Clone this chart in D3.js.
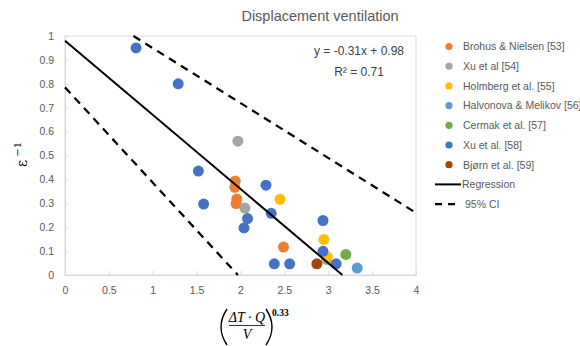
<!DOCTYPE html>
<html>
<head>
  <meta charset="utf-8">
  <title>Displacement ventilation</title>
  <style>
    body { margin: 0; background: #fff; }
    svg { display: block; font-family: "Liberation Sans", Arial, sans-serif; }
    .tick text { fill: #595959; font-size: 10.5px; }
    .tick line { stroke: #d9d9d9; }
    .domain { stroke: #d9d9d9; }
    .legend text { fill: #595959; font-size: 10.5px; }
  </style>
</head>
<body>
  <svg id="chart" width="580" height="346"></svg>

  <script src="https://cdn.jsdelivr.net/npm/d3@7"></script>
  <script>
    // measured points per study: [x, y]
    const brohus = [[1.94, 0.393], [1.935, 0.367], [1.958, 0.318], [1.95, 0.299], [2.49, 0.117]];
    const xu54 = [[1.97, 0.56], [2.05, 0.28], [2.98, 0.065]];
    const holmberg = [[2.45, 0.317], [2.95, 0.149], [2.99, 0.076]];
    const halvonova = [[3.33, 0.029]];
    const cermak = [[3.20, 0.086]];
    const xu58 = [
      [0.81, 0.95], [1.29, 0.80], [1.52, 0.435], [1.58, 0.297], [2.29, 0.376],
      [2.35, 0.258], [2.08, 0.236], [2.04, 0.197], [2.94, 0.228], [2.94, 0.099],
      [2.385, 0.047], [2.56, 0.047], [3.09, 0.047]
    ];
    const bjorn = [[2.87, 0.047]];

    const seriesNames = [
      "Brohus & Nielsen [53]", "Xu et al [54]", "Holmberg et al. [55]",
      "Halvonova & Melikov [56]", "Cermak et al. [57]", "Xu et al. [58]", "Bjørn et al. [59]"
    ];
    const seriesData = [brohus, xu54, holmberg, halvonova, cermak, xu58, bjorn];
    const seriesColors = ["#ED7D31", "#A5A5A5", "#FFC000", "#5B9BD5", "#70AD47", "#4472C4", "#9E480E"];

    // regression y = -0.31x + 0.98 and the 95% CI bounds
    const slope = -0.31, intercept = 0.98;
    const regression = [[0, intercept], [-intercept / slope, 0]];
    const ciUpper = [[0.78, 1.0], [4, 0.26]];
    const ciLower = [[0, 0.785], [1.97, 0]];

    const xTicks = [0, 0.5, 1, 1.5, 2, 2.5, 3, 3.5, 4];
    const yTicks = [0, 0.1, 0.2, 0.3, 0.4, 0.5, 0.6, 0.7, 0.8, 0.9, 1];

    const svg = d3.select("#chart");
    const x = d3.scaleLinear().domain([0, 4]).range([65, 416]);
    const y = d3.scaleLinear().domain([0, 1]).range([275, 36]);
    const fmt = d3.format("~g");

    // plot area frame
    svg.append("rect")
      .attr("x", x(0)).attr("y", y(1))
      .attr("width", x(4) - x(0)).attr("height", y(0) - y(1))
      .attr("fill", "none").attr("stroke", "#d9d9d9");

    svg.append("g")
      .attr("transform", `translate(0,${y(0)})`)
      .call(d3.axisBottom(x).tickValues(xTicks).tickFormat(fmt)
        .tickSizeInner(-4).tickSizeOuter(0).tickPadding(11.5));

    svg.append("g")
      .attr("transform", `translate(${x(0)},0)`)
      .call(d3.axisLeft(y).tickValues(yTicks).tickFormat(fmt)
        .tickSizeInner(-3).tickSizeOuter(0).tickPadding(11));

    // scatter points, one group per study
    seriesData.forEach((pts, i) => {
      svg.append("g").selectAll("circle")
        .data(pts)
        .enter()
        .append("circle")
        .attr("cx", d => x(d[0]))
        .attr("cy", d => y(d[1]))
        .attr("r", 5.5)
        .attr("fill", seriesColors[i]);
    });

    const line = d3.line().x(d => x(d[0])).y(d => y(d[1]));

    svg.append("path").datum(regression)
      .attr("d", line).attr("fill", "none")
      .attr("stroke", "#000").attr("stroke-width", 2);

    [ciUpper, ciLower].forEach(ci => {
      svg.append("path").datum(ci)
        .attr("d", line).attr("fill", "none")
        .attr("stroke", "#000").attr("stroke-width", 2.25)
        .attr("stroke-dasharray", "8,6");
    });

    // title
    svg.append("text")
      .attr("x", 320).attr("y", 21)
      .attr("text-anchor", "middle")
      .attr("fill", "#595959").attr("font-size", 14.5)
      .text("Displacement ventilation");

    // trendline equation
    const eq = svg.append("text")
      .attr("text-anchor", "middle")
      .attr("fill", "#404040").attr("font-size", 12);
    eq.append("tspan").attr("x", 359).attr("y", 55)
      .text(`y = ${slope}x + ${intercept}`);
    eq.append("tspan").attr("x", 359).attr("y", 76)
      .text("R² = 0.71");

    // y-axis label: epsilon to the power -1
    const yl = svg.append("text")
      .attr("transform", "translate(27,167) rotate(-90)")
      .attr("font-family", "'DejaVu Serif', serif")
      .attr("fill", "#000").attr("font-size", 14);
    yl.append("tspan").text("ε");
    yl.append("tspan").attr("dx", 3).attr("dy", -6).attr("font-size", 10).text("−1");

    // x-axis label: (ΔT·Q / V)^0.33, parentheses drawn as curves
    const xl = svg.append("g")
      .attr("font-family", "'Liberation Serif', serif")
      .attr("fill", "#000");
    xl.append("path")
      .attr("d", "M227,309 Q215,327 227,345")
      .attr("fill", "none").attr("stroke", "#000").attr("stroke-width", 1.4);
    xl.append("path")
      .attr("d", "M266,309 Q278,327 266,345")
      .attr("fill", "none").attr("stroke", "#000").attr("stroke-width", 1.4);
    xl.append("text").attr("x", 247).attr("y", 321.5)
      .attr("text-anchor", "middle").attr("font-size", 14).attr("font-style", "italic")
      .text("ΔT · Q");
    xl.append("line")
      .attr("x1", 229).attr("x2", 265).attr("y1", 325.5).attr("y2", 325.5)
      .attr("stroke", "#000").attr("stroke-width", 0.8);
    xl.append("text").attr("x", 247).attr("y", 339)
      .attr("text-anchor", "middle").attr("font-size", 14).attr("font-style", "italic")
      .text("V");
    xl.append("text").attr("x", 272).attr("y", 316)
      .attr("font-size", 9.5).attr("font-weight", "bold")
      .text("0.33");

    // legend
    const legend = svg.append("g").attr("class", "legend");
    const rowY = i => 46.5 + i * 19.7;
    seriesNames.forEach((name, i) => {
      legend.append("circle")
        .attr("cx", 449).attr("cy", rowY(i)).attr("r", 3.6)
        .attr("fill", seriesColors[i]);
      legend.append("text")
        .attr("x", 463).attr("y", rowY(i) + 3.8)
        .text(name);
    });
    const nLine = seriesNames.length;
    legend.append("line")
      .attr("x1", 435).attr("x2", 461)
      .attr("y1", rowY(nLine)).attr("y2", rowY(nLine))
      .attr("stroke", "#000").attr("stroke-width", 2);
    legend.append("text")
      .attr("x", 462).attr("y", rowY(nLine) + 3.8)
      .text("Regression");
    legend.append("line")
      .attr("x1", 435).attr("x2", 459)
      .attr("y1", rowY(nLine + 1)).attr("y2", rowY(nLine + 1))
      .attr("stroke", "#000").attr("stroke-width", 2.25)
      .attr("stroke-dasharray", "7,6");
    legend.append("text")
      .attr("x", 465).attr("y", rowY(nLine + 1) + 3.8)
      .text("95% CI");
  </script>
</body>
</html>
